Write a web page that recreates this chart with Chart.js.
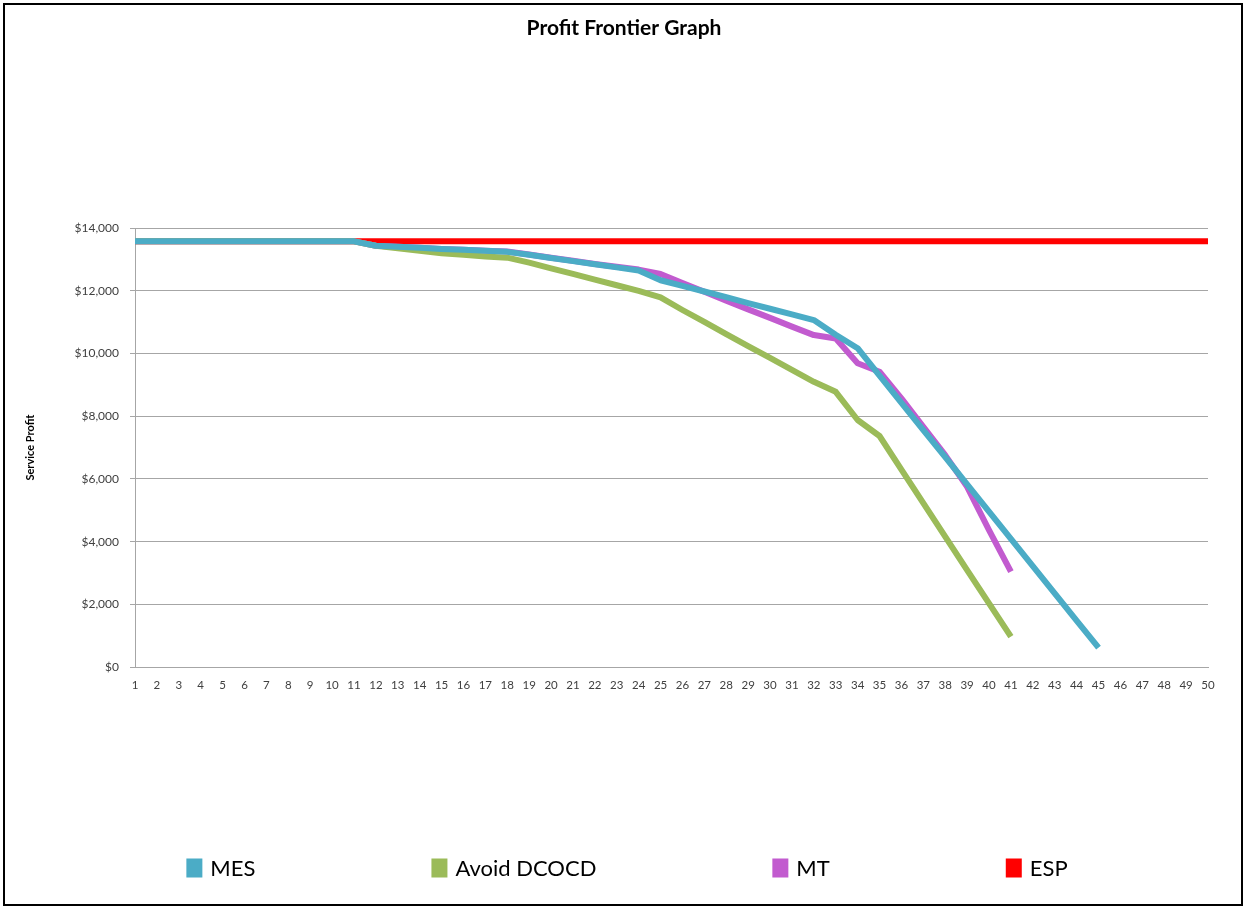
<!DOCTYPE html>
<html>
<head>
<meta charset="utf-8">
<script src="https://cdn.jsdelivr.net/npm/chart.js@4.4.0/dist/chart.umd.min.js"></script>
<style>
html,body{margin:0;padding:0;background:#fff;}
#wrap{position:relative;width:1246px;height:909px;overflow:hidden;}
#frame{position:absolute;left:3px;top:3px;width:1236px;height:899px;border:2px solid #000;pointer-events:none;}
canvas{display:block;}
</style>
</head>
<body>
<div id="wrap"><canvas id="c" width="1246" height="909"></canvas><div id="frame"></div></div>
<script>
const categories = [1,2,3,4,5,6,7,8,9,10,11,12,13,14,15,16,17,18,19,20,21,22,23,24,25,26,27,28,29,30,31,32,33,34,35,36,37,38,39,40,41,42,43,44,45,46,47,48,49,50];

const mesValues = [13580,13580,13580,13580,13580,13580,13580,13580,13580,13580,13580,
  13440,13410,13380,13340,13310,13280,13245,13150,13050,12950,12850,12750,12650,
  12340,12160,11980,11800,11610,11430,11250,11070,10600,10170,
  9300,8430,7560,6700,5830,4960,4090,3220,2350,1480,620,
  null,null,null,null,null];

const avoidValues = [13580,13580,13580,13580,13580,13580,13580,13580,13580,13580,13580,
  13440,13360,13280,13200,13150,13100,13060,12900,12720,12540,12360,12180,12000,
  11790,11390,11010,10620,10240,9860,9480,9100,8780,7880,
  7370,6300,5230,4160,3090,2030,970,
  null,null,null,null,null,null,null,null,null];

const mtValues = [13580,13580,13580,13580,13580,13580,13580,13580,13580,13580,13580,
  13440,13410,13380,13340,13310,13280,13255,13160,13060,12960,12860,12770,12680,
  12540,12250,11970,11690,11410,11140,10860,10590,10480,9690,
  9420,8570,7660,6760,5750,4370,3040,
  null,null,null,null,null,null,null,null,null];

const espValues = [13580,13580,13580,13580,13580,13580,13580,13580,13580,13580,
  13580,13580,13580,13580,13580,13580,13580,13580,13580,13580,
  13580,13580,13580,13580,13580,13580,13580,13580,13580,13580,
  13580,13580,13580,13580,13580,13580,13580,13580,13580,13580,
  13580,13580,13580,13580,13580,13580,13580,13580,13580,13580];

const yTickValues = [0,2000,4000,6000,8000,10000,12000,14000];

const seriesNames = ['MES','Avoid DCOCD','MT','ESP'];
const seriesColors = ['#4BACC6','#9BBB59','#C25BCF','#FF0000'];
const seriesData = [mesValues, avoidValues, mtValues, espValues];

const FONT = 'Lato, "Open Sans", "DejaVu Sans", sans-serif';

const bottomLegend = {
  id: 'bottomLegend',
  afterDraw(chart) {
    const ctx = chart.ctx;
    const fs = 22, box = 16, boxH = 19, textGap = 8, gap = 176, cy = 868;
    ctx.save();
    ctx.font = fs + 'px ' + FONT;
    const items = chart.data.datasets.map(d => {
      const tw = ctx.measureText(d.label).width;
      return {text: d.label, color: d.borderColor, w: box + textGap + tw};
    });
    const total = items.reduce((s, it) => s + it.w, 0) + gap * (items.length - 1);
    let x = 627 - total / 2;
    ctx.textBaseline = 'middle';
    ctx.textAlign = 'left';
    items.forEach(it => {
      ctx.fillStyle = it.color;
      ctx.fillRect(x, cy - boxH / 2, box, boxH);
      ctx.fillStyle = '#000';
      ctx.fillText(it.text, x + box + textGap, cy + 1);
      x += it.w + gap;
    });
    ctx.restore();
  }
};

const whiteBg = {
  id: 'whiteBg',
  beforeDraw(chart) {
    const ctx = chart.ctx;
    ctx.save();
    ctx.fillStyle = '#fff';
    ctx.fillRect(0, 0, chart.width, chart.height);
    ctx.restore();
  }
};

new Chart(document.getElementById('c'), {
  type: 'line',
  data: {
    labels: categories,
    datasets: seriesNames.map((n, i) => ({
      label: n,
      data: seriesData[i],
      borderColor: seriesColors[i],
      backgroundColor: seriesColors[i],
      borderWidth: 6,
      pointRadius: 0,
      pointHoverRadius: 0,
      tension: 0,
      fill: false,
      spanGaps: false,
      borderJoinStyle: 'round',
      yAxisID: 'y'
    }))
  },
  options: {
    responsive: false,
    animation: false,
    devicePixelRatio: 1,
    layout: { padding: { left: 2, right: 0, top: 0, bottom: 0 } },
    plugins: {
      legend: { display: false },
      tooltip: { enabled: false },
      title: {
        display: true,
        text: 'Profit Frontier Graph',
        color: '#000',
        font: { family: FONT, size: 21, weight: 'bold' },
        padding: { top: 16, bottom: 187 }
      }
    },
    scales: {
      x: {
        type: 'category',
        offset: false,
        grid: { display: false, drawTicks: false },
        border: { display: true, color: '#A6A6A6', width: 1 },
        ticks: {
          autoSkip: false, maxRotation: 0, minRotation: 0,
          color: '#404040', padding: 11,
          font: { family: FONT, size: 11.5 }
        },
        afterFit(scale) { scale.height = 242; }
      },
      y: {
        position: 'left',
        min: 0, max: 14000,
        afterBuildTicks(scale) { scale.ticks = yTickValues.map(v => ({ value: v })); },
        grid: { color: '#A6A6A6', lineWidth: 1, drawTicks: true, tickLength: 5 },
        border: { display: true, color: '#A6A6A6', width: 1 },
        ticks: {
          color: '#404040', padding: 11,
          font: { family: FONT, size: 12 },
          callback: v => '$' + Number(v).toLocaleString('en-US')
        },
        title: {
          display: true,
          text: 'Service Profit',
          color: '#000',
          font: { family: FONT, size: 11, weight: 'bold' },
          padding: { top: 22, bottom: 0 }
        },
        afterFit(scale) { scale.width = 133; }
      },
      yRight: {
        position: 'right',
        min: 0, max: 14000,
        grid: { display: false, drawTicks: false },
        border: { display: false },
        ticks: { display: false },
        afterFit(scale) { scale.width = 38; }
      }
    }
  },
  plugins: [whiteBg, bottomLegend]
});
</script>
</body>
</html>
